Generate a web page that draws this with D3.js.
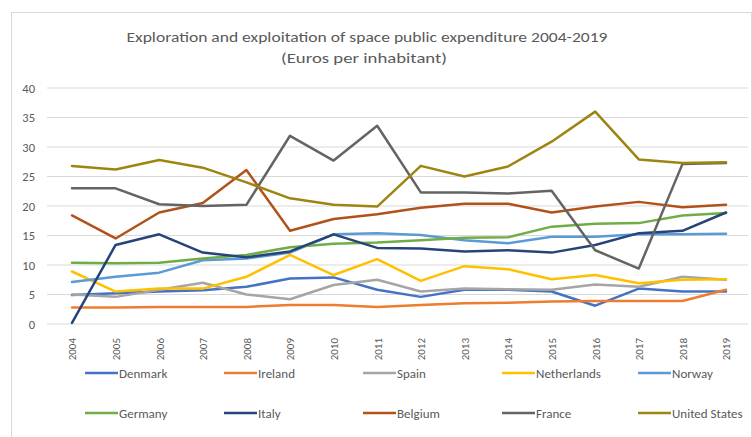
<!DOCTYPE html>
<html><head><meta charset="utf-8">
<script src="https://cdn.jsdelivr.net/npm/d3@7"></script>
<style>body{margin:0;background:#fff}svg{display:block}</style>
</head><body><svg id="c" width="752" height="437"></svg>
<script>
const years = ["2004","2005","2006","2007","2008","2009","2010","2011","2012","2013","2014","2015","2016","2017","2018","2019"];
const yTicks = [0,5,10,15,20,25,30,35,40];
const denmark     = [4.9,5.2,5.5,5.7,6.3,7.7,7.9,5.8,4.6,5.8,5.8,5.5,3.1,6.0,5.5,5.5];
const ireland     = [2.8,2.8,2.9,2.9,2.9,3.2,3.2,2.9,3.2,3.5,3.6,3.8,3.9,3.9,3.9,5.8];
const spain       = [5.0,4.6,5.8,7.0,5.0,4.2,6.6,7.5,5.5,6.0,5.9,5.8,6.7,6.3,8.0,7.5];
const netherlands = [8.9,5.5,6.0,6.0,8.0,11.7,8.3,11.0,7.3,9.8,9.3,7.6,8.3,6.9,7.5,7.6];
const norway      = [7.1,8.0,8.7,10.8,11.1,12.1,15.2,15.4,15.1,14.2,13.7,14.8,14.8,15.2,15.2,15.3];
const germany     = [10.4,10.3,10.4,11.1,11.7,13.0,13.6,13.8,14.2,14.6,14.7,16.5,17.0,17.1,18.4,18.8];
const italy       = [0.2,13.4,15.2,12.1,11.3,12.3,15.2,12.9,12.8,12.3,12.5,12.1,13.4,15.4,15.8,18.9];
const belgium     = [18.4,14.5,18.9,20.5,26.1,15.8,17.8,18.6,19.7,20.4,20.4,18.9,19.9,20.7,19.8,20.2];
const france      = [23.0,23.0,20.3,20.0,20.2,31.9,27.7,33.6,22.3,22.3,22.1,22.6,12.5,9.4,27.1,27.3];
const unitedStates= [26.8,26.2,27.8,26.5,24.0,21.3,20.2,19.9,26.8,25.0,26.7,30.9,36.0,27.9,27.3,27.4];

const seriesNames = ["Denmark","Ireland","Spain","Netherlands","Norway","Germany","Italy","Belgium","France","United States"];
const seriesValues = [denmark,ireland,spain,netherlands,norway,germany,italy,belgium,france,unitedStates];
const colors = ["#4472C4","#ED7D31","#A5A5A5","#FFC000","#5B9BD5","#70AD47","#264478","#B0521A","#646464","#9E8512"];

const svg = d3.select("#c");
const font = "Carlito, 'Open Sans', 'Liberation Sans', sans-serif";
const txt = "#595959";

svg.append("rect").attr("x",11.5).attr("y",12.5).attr("width",740).attr("height",430)
  .attr("fill","#fff").attr("stroke","#d9d9d9");

svg.append("text").attr("x",367).attr("y",42).attr("text-anchor","middle")
  .attr("font-family",font).attr("font-size",14.5).attr("fill",txt)
  .attr("textLength",481).attr("lengthAdjust","spacingAndGlyphs")
  .text("Exploration and exploitation of space public expenditure 2004-2019");
svg.append("text").attr("x",364).attr("y",63).attr("text-anchor","middle")
  .attr("font-family",font).attr("font-size",14.5).attr("fill",txt)
  .attr("textLength",166).attr("lengthAdjust","spacingAndGlyphs")
  .text("(Euros per inhabitant)");

const x = d3.scalePoint().domain(years).range([72,726]);
const y = d3.scaleLinear().domain([0,40]).range([324,88]);

// gridlines
svg.append("g").selectAll("line").data(yTicks).join("line")
  .attr("x1",47).attr("x2",748).attr("y1",d=>y(d)).attr("y2",d=>y(d))
  .attr("stroke","#d9d9d9").attr("stroke-width",1);

// y axis labels
const yAxis = svg.append("g").attr("transform","translate(39,0)")
  .call(d3.axisLeft(y).tickValues(yTicks).tickSize(0).tickPadding(4));
yAxis.select(".domain").remove();
yAxis.selectAll("text").attr("font-family",font).attr("font-size",12.5).attr("fill",txt);

// x axis labels
const xAxis = svg.append("g").attr("transform","translate(0,338)")
  .call(d3.axisBottom(x).tickSize(0).tickPadding(0));
xAxis.select(".domain").remove();
xAxis.selectAll("text").attr("font-family",font).attr("font-size",11).attr("fill",txt)
  .attr("y",0).attr("x",0).attr("dy","0.35em")
  .attr("transform","rotate(-90)").attr("text-anchor","end");

// lines
const line = d3.line().x((d,i)=>x(years[i])).y(d=>y(d));
svg.append("g").selectAll("path").data(seriesValues).join("path")
  .attr("d",line).attr("fill","none")
  .attr("stroke",(d,i)=>colors[i]).attr("stroke-width",2.5)
  .attr("stroke-linejoin","round").attr("stroke-linecap","round");

// legend
const colX = [85,224,363,502,638];
const rowY = [373,413];
const lg = svg.append("g").selectAll("g").data(seriesNames).join("g")
  .attr("transform",(d,i)=>`translate(${colX[i%5]},${rowY[Math.floor(i/5)]})`);
lg.append("line").attr("x1",0).attr("x2",33).attr("y1",0).attr("y2",0)
  .attr("stroke",(d,i)=>colors[i]).attr("stroke-width",2.5);
lg.append("text").attr("x",34).attr("y",4.5).attr("font-family",font).attr("font-size",13)
  .attr("fill",txt).text(d=>d);
</script></body></html>
